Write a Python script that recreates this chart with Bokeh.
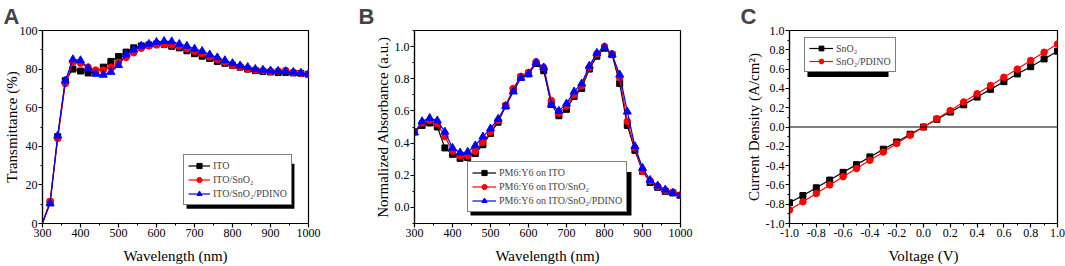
from bokeh.plotting import figure
from bokeh.layouts import row
from bokeh.models import (FixedTicker, PrintfTickFormatter, Legend, LegendItem,
                          Span, BoxAnnotation, Range1d)
from bokeh.embed import file_html
from bokeh.resources import INLINE

# ---------------- Data ----------------
# Panel A: transmittance (%)
wl_a = [300, 320, 340, 360, 380, 400, 420, 440, 460, 480, 500, 520, 540, 560, 580, 600,
        620, 640, 660, 680, 700, 720, 740, 760, 780, 800, 820, 840, 860, 880, 900, 920,
        940, 960, 980, 1000]
t_ito = [0.3, 11.0, 45.0, 74.0, 80.0, 79.0, 78.0, 78.5, 81.0, 84.0, 86.5, 88.8, 91.0, 92.0,
         92.5, 93.0, 92.8, 91.8, 91.0, 89.5, 88.0, 86.7, 85.5, 84.0, 83.0, 82.0, 81.0, 80.0,
         79.2, 78.8, 78.5, 78.2, 78.3, 78.0, 77.8, 77.3]
t_sno2 = [0.3, 11.5, 44.0, 72.5, 83.5, 83.0, 81.0, 79.5, 79.5, 81.0, 83.5, 86.0, 88.5, 90.8,
          92.0, 92.5, 92.7, 92.5, 91.8, 90.5, 89.2, 88.0, 86.3, 85.0, 83.5, 82.0, 81.0, 80.0,
          79.5, 79.2, 78.8, 79.0, 79.3, 78.3, 77.8, 77.3]
t_pdino = [0.3, 10.3, 45.5, 74.0, 85.0, 84.5, 80.5, 77.5, 77.0, 78.5, 82.0, 87.5, 90.0, 92.0,
           93.0, 94.0, 94.5, 94.3, 93.0, 92.0, 90.5, 89.3, 87.5, 86.0, 84.5, 83.0, 81.8, 81.0,
           80.0, 79.6, 79.2, 79.0, 78.8, 78.5, 78.0, 77.5]

# Panel B: normalized absorbance
wl_b = [300, 320, 340, 360, 380, 400, 420, 440, 460, 480, 500, 520, 540, 560, 580, 600,
        620, 640, 660, 680, 700, 720, 740, 760, 780, 800, 820, 840, 860, 880, 900, 920,
        940, 960, 980, 1000]
a_ito = [0.47, 0.51, 0.525, 0.50, 0.37, 0.33, 0.305, 0.31, 0.335, 0.39, 0.46, 0.53, 0.63,
         0.73, 0.81, 0.83, 0.895, 0.85, 0.64, 0.57, 0.61, 0.69, 0.74, 0.86, 0.94, 0.99,
         0.95, 0.77, 0.51, 0.355, 0.225, 0.155, 0.125, 0.10, 0.09, 0.075]
a_sno2 = [0.47, 0.525, 0.54, 0.52, 0.44, 0.35, 0.32, 0.32, 0.35, 0.405, 0.47, 0.54, 0.635,
          0.74, 0.815, 0.84, 0.905, 0.87, 0.665, 0.585, 0.63, 0.70, 0.755, 0.87, 0.955, 1.0,
          0.955, 0.805, 0.535, 0.37, 0.225, 0.165, 0.13, 0.105, 0.095, 0.075]
a_pdino = [0.465, 0.535, 0.555, 0.54, 0.47, 0.37, 0.34, 0.345, 0.385, 0.44, 0.49, 0.55, 0.63,
           0.72, 0.805, 0.83, 0.90, 0.87, 0.64, 0.60, 0.645, 0.72, 0.77, 0.88, 0.96, 0.995,
           0.95, 0.825, 0.595, 0.38, 0.245, 0.17, 0.135, 0.11, 0.09, 0.075]

# Panel C: current density (A/cm^2)
volt = [-1.0, -0.9, -0.8, -0.7, -0.6, -0.5, -0.4, -0.3, -0.2, -0.1, 0.0, 0.1, 0.2, 0.3,
        0.4, 0.5, 0.6, 0.7, 0.8, 0.9, 1.0]
j_sno2 = [-0.785, -0.71, -0.63, -0.55, -0.47, -0.39, -0.31, -0.23, -0.155, -0.075, 0.0,
          0.08, 0.155, 0.23, 0.31, 0.39, 0.47, 0.55, 0.625, 0.705, 0.785]
j_pdino = [-0.86, -0.775, -0.69, -0.60, -0.515, -0.43, -0.345, -0.26, -0.17, -0.085, 0.0,
           0.085, 0.17, 0.26, 0.345, 0.43, 0.515, 0.60, 0.69, 0.775, 0.86]

labels_a = ["ITO", "ITO/SnO\u2082", "ITO/SnO\u2082/PDINO"]
labels_b = ["PM6:Y6 on ITO", "PM6:Y6 on ITO/SnO\u2082", "PM6:Y6 on ITO/SnO\u2082/PDINO"]
labels_c = ["SnO\u2082", "SnO\u2082/PDINO"]

wl_ticks = [300, 400, 500, 600, 700, 800, 900, 1000]
wl_minor = [350, 450, 550, 650, 750, 850, 950]
ta_ticks = [0, 20, 40, 60, 80, 100]
ta_minor = [10, 30, 50, 70, 90]
ab_ticks = [0.0, 0.2, 0.4, 0.6, 0.8, 1.0]
ab_minor = [-0.1, 0.1, 0.3, 0.5, 0.7, 0.9, 1.1]
iv_ticks = [-1.0, -0.8, -0.6, -0.4, -0.2, 0.0, 0.2, 0.4, 0.6, 0.8, 1.0]
iv_minor = [-0.9, -0.7, -0.5, -0.3, -0.1, 0.1, 0.3, 0.5, 0.7, 0.9]

SERIF = "'Liberation Serif', serif"
COLORS = ["black", "red", "blue"]
MARKERS = ["square", "circle", "triangle"]
MSIZES = [6, 6.5, 8]


def style(p, letter, offset, ystand):
    p.title.text = letter
    p.title.text_font = "'Liberation Sans', sans-serif"
    p.title.text_font_style = "bold"
    p.title.text_font_size = "22px"
    p.title.align = "left"
    p.title.vertical_align = "top"
    p.title.offset = offset
    p.title.standoff = 0
    p.outline_line_color = "black"
    p.outline_line_alpha = 1
    p.outline_line_width = 1.2
    p.xgrid.visible = False
    p.ygrid.visible = False
    for ax in (p.xaxis[0], p.yaxis[0]):
        ax.axis_line_width = 1.2
        ax.major_tick_out = 4
        ax.major_tick_in = 0
        ax.minor_tick_out = 2
        ax.minor_tick_in = 0
        ax.major_tick_line_width = 1.2
        ax.minor_tick_line_width = 1
        ax.major_label_text_font = SERIF
        ax.major_label_text_font_size = "12px"
        ax.major_label_text_font_style = "normal"
        ax.major_label_text_color = "black"
        ax.axis_label_text_font = SERIF
        ax.axis_label_text_font_size = "15px"
        ax.axis_label_text_font_style = "normal"
        ax.axis_label_text_color = "black"
        ax.major_label_standoff = 1
    p.xaxis[0].axis_label_standoff = 8
    p.yaxis[0].axis_label_standoff = ystand


def make_legend(items, loc, h, gw):
    lg = Legend(items=items, location=loc)
    lg.label_text_font = SERIF
    lg.label_text_font_size = "10px"
    lg.glyph_width = gw
    lg.glyph_height = h
    lg.label_height = h
    lg.spacing = 1
    lg.padding = 4
    lg.margin = 0
    lg.label_standoff = 3
    lg.border_line_color = "black"
    lg.border_line_width = 1
    lg.background_fill_alpha = 1
    return lg


def add_series(p, x, ys, labels, n, skip_first=False):
    items = []
    for i in range(n):
        y = ys[i]
        lr = p.line(x, y, line_color=COLORS[i], line_width=1.2)
        sx = x[1:] if skip_first else x
        sy = y[1:] if skip_first else y
        sr = p.scatter(sx, sy, marker=MARKERS[i], size=MSIZES[i],
                       fill_color=COLORS[i], line_color=COLORS[i])
        items.append(LegendItem(label=labels[i], renderers=[lr, sr]))
    return items


def shadow(l, r, b, t):
    return BoxAnnotation(left=l, right=r, bottom=b, top=t,
                         fill_color="black", fill_alpha=1, line_alpha=0)


# ---------------- Panel A ----------------
pa = figure(width=355, height=266, output_backend="svg", toolbar_location=None,
            x_range=Range1d(300, 1000), y_range=Range1d(0, 100),
            min_border_left=42, min_border_right=47, min_border_top=30, min_border_bottom=42)
style(pa, "A", -39, -3)
pa.xaxis[0].ticker = FixedTicker(ticks=wl_ticks, minor_ticks=wl_minor)
pa.yaxis[0].ticker = FixedTicker(ticks=ta_ticks, minor_ticks=ta_minor)
pa.xaxis[0].axis_label = "Wavelength (nm)"
pa.yaxis[0].axis_label = "Transmittance (%)"
items_a = add_series(pa, wl_a, [t_ito, t_sno2, t_pdino], labels_a, 3, skip_first=True)
pa.add_layout(shadow(679, 963, 7.7, 30.9))
pa.add_layout(make_legend(items_a, (141, 18), 13, 22))

# ---------------- Panel B ----------------
pb = figure(width=355, height=266, output_backend="svg", toolbar_location=None,
            x_range=Range1d(300, 1000), y_range=Range1d(-0.1, 1.1),
            min_border_left=59, min_border_right=30, min_border_top=29, min_border_bottom=42)
style(pb, "B", -56, 1)
pb.xaxis[0].ticker = FixedTicker(ticks=wl_ticks, minor_ticks=wl_minor)
pb.yaxis[0].ticker = FixedTicker(ticks=ab_ticks, minor_ticks=ab_minor)
pb.yaxis[0].formatter = PrintfTickFormatter(format="%.1f")
pb.xaxis[0].axis_label = "Wavelength (nm)"
pb.yaxis[0].axis_label = "Normalized Absorbance (a.u.)"
items_b = add_series(pb, wl_b, [a_ito, a_sno2, a_pdino], labels_b, 3)
pb.add_layout(shadow(447.4, 871, -0.051, 0.22))
pb.add_layout(make_legend(items_b, (53, 11), 13, 24))

# ---------------- Panel C ----------------
pc = figure(width=355, height=266, output_backend="svg", toolbar_location=None,
            x_range=Range1d(-1.0, 1.0), y_range=Range1d(-1.0, 1.0),
            min_border_left=79, min_border_right=8, min_border_top=29, min_border_bottom=42)
style(pc, "C", -49, 1)
pc.xaxis[0].ticker = FixedTicker(ticks=iv_ticks, minor_ticks=iv_minor)
pc.yaxis[0].ticker = FixedTicker(ticks=iv_ticks, minor_ticks=iv_minor)
pc.xaxis[0].formatter = PrintfTickFormatter(format="%.1f")
pc.yaxis[0].formatter = PrintfTickFormatter(format="%.1f")
pc.xaxis[0].axis_label = "Voltage (V)"
pc.yaxis[0].axis_label = "Current Density (A/cm\u00b2)"
pc.add_layout(Span(location=0, dimension="width", line_color="black", line_width=1.2))
items_c = add_series(pc, volt, [j_sno2, j_pdino], labels_c, 2)
pc.add_layout(shadow(-0.866, -0.261, 0.518, 0.836))
pc.add_layout(make_legend(items_c, (15, 151), 12, 24))

layout = row(pa, pb, pc)
open("out.html", "w").write(file_html(layout, INLINE))
